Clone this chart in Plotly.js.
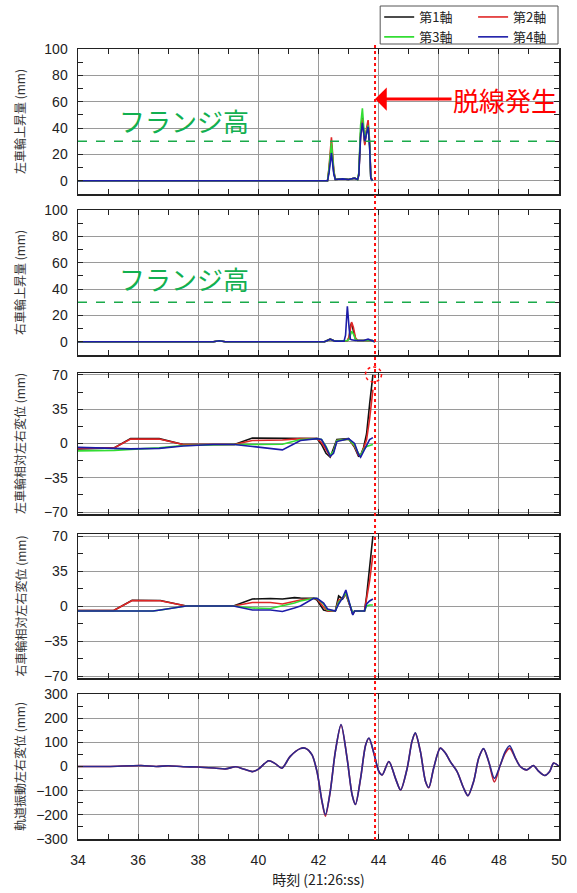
<!DOCTYPE html>
<html><head><meta charset="utf-8">
<script src="https://cdn.plot.ly/plotly-3.0.1.min.js"></script>
<style>html,body{margin:0;padding:0;background:#fff}#chart{width:577px;height:893px}</style>
</head><body><div id="chart"></div>
<script>
// ---------- data ----------
const seriesNames = ['第1軸', '第2軸', '第3軸', '第4軸'];
const flangeHeight = 30;
const derailTime = 43.88;

// Panel 1: left wheel rise (mm)
const leftRiseT = [34, 42.3, 42.35, 42.43, 42.51, 42.56, 42.8, 43.0, 43.2, 43.3, 43.34, 43.4, 43.46, 43.54, 43.6, 43.65, 43.7, 43.74, 43.8];
const leftRise1 = [0, 0, 8, 27, 6, 1, 1.5, 1, 2, 1, 5, 36, 48, 28, 38, 43, 27, 2, 0];
const leftRise2 = [0, 0, 10, 33, 8, 1, 1.5, 1, 2, 1, 5, 35, 47, 27, 40, 46, 30, 3, 0];
const leftRise3 = [0, 0, 9, 29, 7, 1, 1.5, 1, 2, 1, 6, 42, 55, 30, 38, 42, 28, 2, 0];
const leftRise4 = [0, 0, 6, 21, 5, 1, 1.5, 1, 2, 1, 4, 33, 44, 30, 36, 41, 26, 2, 0];

// Panel 2: right wheel rise (mm)
const rightRiseT = [34, 38.5, 38.7, 38.9, 42.2, 42.39, 42.55, 42.85, 42.9, 42.96, 43.02, 43.06, 43.1, 43.16, 43.23, 43.3, 43.5, 43.65, 43.8, 43.87];
const rightRise1 = [0, 0, 0.8, 0, 0, 2, 0.5, 0.5, 0.5, 1, 3, 12, 14, 9, 2, 1, 1, 1.5, 1, 0];
const rightRise2 = [0, 0, 0.8, 0, 0, 2, 0.5, 0.5, 0.5, 1, 4, 9, 15, 11, 3, 1, 1, 1.5, 1, 0];
const rightRise3 = [0, 0, 0.8, 0, 0, 2, 0.5, 0.5, 0.5, 1, 2, 5, 8, 6, 2, 1, 1, 1, 1, 0];
const rightRise4 = [0, 0, 0.8, 0, 0, 2, 0.5, 0.5, 5, 27, 10, 2, 1.5, 1, 1, 1, 1, 2, 1, 0];

// Panel 3: left wheel relative lateral displacement (mm)
const leftLatT = [34, 34.5, 35.2, 35.75, 36.7, 37.5, 38.5, 39.2, 39.8, 40.4, 40.8, 41.4, 41.95, 42.1, 42.25, 42.39, 42.5, 42.61, 43.0, 43.2, 43.33, 43.4, 43.5, 43.6, 43.7, 43.81];
const leftLat1 = [-5.5, -5, -4.5, 5, 5, -1, -1, -1, 5.5, 5.5, 5, 5.3, 5, -1, -10, -14, -5, 4, 5, -4, -13, -12, -4, 10, 40, 70];
const leftLat2 = [-5, -5, -4.5, 4.5, 4.5, -1, -1, -1, 3, 3.5, 3.6, 5, 5, 1, -6, -13, -8, 3, 4.5, -3, -12, -13, -5, 4, 25, 55];
const leftLat3 = [-7.5, -7.5, -7, -6, -4.5, -2, -1, -1, -1, -1, -0.7, 4, 5, 4, -3, -12, -8, 3, 4.5, -2, -10, -12, -6, -3, -2, -1];
const leftLat4 = [-4, -4.5, -5, -5.5, -5, -2.5, -1, -1, -3, -5, -6.5, 3, 5, 4, -4, -13, -10, 2, 5, 0, -11, -14, -8, -2, 4, 6];

// Panel 4: right wheel relative lateral displacement (mm)
const rightLatT = [34, 35.19, 35.8, 36.5, 36.74, 37.6, 39.17, 39.8, 40.4, 40.8, 41.2, 41.4, 41.84, 41.95, 42.17, 42.3, 42.56, 42.67, 42.8, 42.91, 43.14, 43.2, 43.53, 43.6, 43.7, 43.81];
const rightLat1 = [-4.5, -4.5, 5.7, 5.6, 5.5, 0, 0, 7, 7.5, 7, 8.4, 8, 7.7, 6, -4, -5, -5, 10, 7, 12, -8, -5, -5, 10, 40, 70];
const rightLat2 = [-4.5, -4.5, 5.5, 5.4, 5.3, 0, 0, 3.5, 3.5, 2, 5, 6, 7.7, 7, -1, -5, -5, 6, 8, 12, -8, -5, -5, 6, 25, 51];
const rightLat3 = [-5, -5, -5, -5, -4, 0, 0, -2, -2.5, 0, 3, 5, 7.7, 7.5, 2, -4, -5, 4, 8, 13, -7, -5, -5, 0, 1, 1];
const rightLat4 = [-5, -5, -5, -5, -4, 0, 0, -4, -4, -5.5, -2, 0, 7.7, 7.7, 3, -3, -5, 2, 8, 16, -9, -5, -5, 2, 5, 7];

// Panel 5: track vibration lateral displacement (mm)
const trackT = [34, 35, 36.1, 36.6, 37.0, 37.5, 38.0, 38.6, 38.9, 39.25, 39.5, 39.8, 40.0, 40.34, 40.56, 40.78, 41.06, 41.39, 41.56, 41.78, 41.95, 42.12, 42.23, 42.39, 42.56, 42.75, 42.95, 43.12, 43.23, 43.4, 43.57, 43.68, 43.84, 44.01, 44.12, 44.34, 44.56, 44.73, 44.95, 45.11, 45.22, 45.39, 45.56, 45.67, 45.83, 46.05, 46.22, 46.38, 46.61, 46.83, 46.97, 47.16, 47.33, 47.49, 47.66, 47.85, 48.05, 48.21, 48.36, 48.55, 48.71, 48.93, 49.15, 49.31, 49.53, 49.69, 49.82, 50];
const trackBlue = [0, 0, 4, 0, 3, -1, -2, -7, -10, -1, -10, -21, -11, 24, 12, -7, 42, 74, 76, 49, -21, -146, -199, -104, 62, 174, 35, -118, -157, -49, 90, 118, 56, -21, -35, 21, -49, -97, -7, 104, 139, 62, -62, -87, -7, 76, 56, 21, -21, -90, -121, -62, 35, 74, 21, -49, 7, 62, 86, 35, 0, -14, 4, -18, -37, -21, 14, 0];
const trackRed = [0, 0, 4, 0, 3, -1, -2, -7, -10, -1, -10, -21, -11, 24, 12, -7, 42, 74, 76, 49, -21, -148, -206, -104, 62, 172, 35, -118, -157, -49, 90, 117, 56, -21, -35, 21, -49, -97, -7, 104, 137, 62, -62, -88, -7, 76, 56, 21, -21, -90, -121, -62, 35, 73, 21, -64, 7, 55, 75, 35, 0, -14, 4, -18, -37, -21, 14, 0];

const yTitles = ['左車輪上昇量 (mm)', '右車輪上昇量 (mm)', '左車輪相対左右変位 (mm)', '右車輪相対左右変位 (mm)', '軌道振動左右変位 (mm)'];
const xTitle = '時刻 (21:26:ss)';

// ---------- styling / layout ----------
const colors = ['#111111', '#e02626', '#33dd33', '#1c1ca8'];
const W = 577, H = 893, ML = 77.5, MR = 18;
const PW = W - ML - MR;
const panelPx = [[49, 194], [210, 355], [373, 514], [534, 678], [694, 839]];
const px2x = p => (p - ML) / PW;
const py2y = p => 1 - p / H;
const tickFont = {family: 'Liberation Sans, Arial, sans-serif', size: 14, color: '#222'};
const jpFont = 'Noto Sans CJK JP, sans-serif';

const panels = [
  {t: leftRiseT, ys: [leftRise1, leftRise2, leftRise3, leftRise4], range: [-10, 100], dtick: 20, minor: 10},
  {t: rightRiseT, ys: [rightRise1, rightRise2, rightRise3, rightRise4], range: [-10, 100], dtick: 20, minor: 10},
  {t: leftLatT, ys: [leftLat1, leftLat2, leftLat3, leftLat4], range: [-72, 72], dtick: 35, minor: 17.5},
  {t: rightLatT, ys: [rightLat1, rightLat2, rightLat3, rightLat4], range: [-72, 72], dtick: 35, minor: 17.5}
];

const traces = [];
panels.forEach((p, i) => {
  const n = i + 1;
  p.ys.forEach((y, k) => {
    traces.push({
      x: p.t, y: y, type: 'scatter', mode: 'lines',
      xaxis: 'x' + (n > 1 ? n : ''), yaxis: 'y' + (n > 1 ? n : ''),
      line: {color: colors[k], width: 1.6},
      name: seriesNames[k], showlegend: i === 0,
      legend: (k % 2 === 0) ? 'legend' : 'legend2',
      hoverinfo: 'skip'
    });
  });
});
traces.push({x: trackT, y: trackRed, type: 'scatter', mode: 'lines', xaxis: 'x5', yaxis: 'y5',
  line: {color: '#cc2233', width: 1.6, shape: 'spline', smoothing: 0.8}, showlegend: false, hoverinfo: 'skip'});
traces.push({x: trackT, y: trackBlue, type: 'scatter', mode: 'lines', xaxis: 'x5', yaxis: 'y5',
  line: {color: '#2a2a90', width: 1.6, shape: 'spline', smoothing: 0.8}, showlegend: false, hoverinfo: 'skip'});

const layout = {
  width: W, height: H,
  margin: {l: ML, r: MR, t: 0, b: 0},
  paper_bgcolor: '#fff', plot_bgcolor: '#fff',
  showlegend: true,
  legend: {x: px2x(379), xanchor: 'left', y: py2y(2), yanchor: 'top', bgcolor: 'rgba(0,0,0,0)', borderwidth: 0,
    font: {family: jpFont, size: 13, color: '#222'}, tracegroupgap: 0},
  legend2: {x: px2x(473), xanchor: 'left', y: py2y(2), yanchor: 'top', bgcolor: 'rgba(0,0,0,0)', borderwidth: 0,
    font: {family: jpFont, size: 13, color: '#222'}, tracegroupgap: 0},
  annotations: [], shapes: []
};

const yRanges = panels.map(p => p);
yRanges.push({range: [-300, 300], dtick: 100, minor: 50});

for (let n = 1; n <= 5; n++) {
  const sfx = n > 1 ? n : '';
  const [top, bot] = panelPx[n - 1];
  const yr = yRanges[n - 1];
  layout['xaxis' + sfx] = {
    domain: [0, 1], anchor: 'y' + sfx, range: [34, 50], tick0: 34, dtick: 2,
    ticks: 'inside', ticklen: 5, tickwidth: 1, tickcolor: '#222',
    showgrid: true, gridcolor: '#9a9a9a', gridwidth: 1,
    showline: true, linecolor: '#222', linewidth: 1.5, mirror: 'allticks', zeroline: false,
    minor: {dtick: 1, tick0: 34, ticks: 'inside', ticklen: 5, tickcolor: '#222', showgrid: false},
    showticklabels: n === 5, tickfont: tickFont, ticklabelstandoff: 8
  };
  layout['yaxis' + sfx] = {
    domain: [py2y(bot), py2y(top)], anchor: 'x' + sfx, range: yr.range, tick0: 0, dtick: yr.dtick,
    ticks: 'inside', ticklen: 5, tickwidth: 1, tickcolor: '#222',
    showgrid: true, gridcolor: '#9a9a9a', gridwidth: 1,
    showline: true, linecolor: '#222', linewidth: 1.5, mirror: 'allticks', zeroline: false,
    minor: {dtick: yr.minor, ticks: 'inside', ticklen: 5, tickcolor: '#222', showgrid: false},
    tickfont: tickFont, ticklabelstandoff: 6
  };
  layout.annotations.push({
    text: yTitles[n - 1], xref: 'paper', yref: 'y' + sfx + ' domain', x: px2x(19), y: 0.5,
    xanchor: 'center', yanchor: 'middle', textangle: -90, showarrow: false,
    font: {family: jpFont, size: 12, color: '#333'}
  });
}
layout.xaxis5.title = {text: xTitle, font: {family: jpFont, size: 14, color: '#222'}, standoff: 8};

// flange height lines & labels
['', '2'].forEach((sfx, i) => {
  layout.shapes.push({type: 'line', xref: 'x' + sfx, yref: 'y' + sfx, x0: 34, x1: 50, y0: flangeHeight, y1: flangeHeight,
    line: {color: '#1aaa4a', width: 1.6, dash: 'dash'}});
  layout.annotations.push({text: 'フランジ高', xref: 'paper', yref: 'paper', x: px2x(117), y: py2y(i === 0 ? 121 : 278),
    xanchor: 'left', yanchor: 'middle', showarrow: false, font: {family: jpFont, size: 26, color: '#12b050'}});
});

// derailment vertical line
layout.shapes.push({type: 'line', xref: 'x5', yref: 'paper', x0: derailTime, x1: derailTime, y0: py2y(840), y1: py2y(44),
  line: {color: '#ff1010', width: 2, dash: 'dot'}, layer: 'above'});
// circle on panel 3
layout.shapes.push({type: 'circle', xref: 'x3', yref: 'y3 domain', xsizemode: 'pixel', ysizemode: 'pixel',
  xanchor: 43.83, yanchor: 0.99, x0: -8, x1: 8, y0: -7.5, y1: 7.5, line: {color: '#ff1010', width: 1.5, dash: 'dot'}});
// legend box
layout.shapes.push({type: 'rect', xref: 'paper', yref: 'paper', x0: px2x(380), x1: px2x(558), y0: py2y(44), y1: py2y(6),
  line: {color: '#555', width: 1}, fillcolor: 'rgba(0,0,0,0)'});

// derailment arrow & label
layout.annotations.push({text: '', xref: 'x', yref: 'y', x: derailTime, y: 62, ax: 78, ay: 0, axref: 'pixel', ayref: 'pixel',
  showarrow: true, arrowhead: 1, arrowsize: 1.3, arrowwidth: 3, arrowcolor: '#ff0000', standoff: 0});
layout.annotations.push({text: '脱線発生', xref: 'paper', yref: 'paper', x: px2x(451), y: py2y(99),
  xanchor: 'left', yanchor: 'middle', showarrow: false, font: {family: jpFont, size: 26, color: '#ff0000'}});

Plotly.newPlot('chart', traces, layout, {displayModeBar: false, staticPlot: true});
</script>
</body></html>
